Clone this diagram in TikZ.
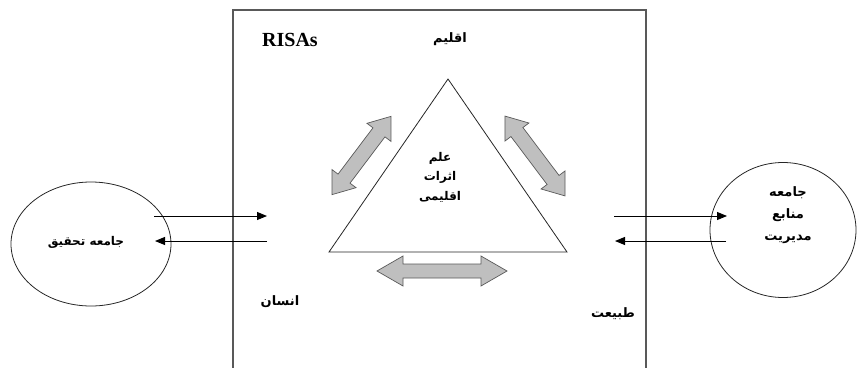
\documentclass[tikz,border=0pt]{standalone}
\usepackage{fontspec}
\setmainfont{Liberation Serif}
\newfontfamily\arabicfont[Script=Arabic]{DejaVu Sans}
\TeXXeTstate=1
\usetikzlibrary{arrows.meta,shapes.geometric}
\newcommand{\fa}[1]{{\arabicfont\bfseries\beginR #1\endR}}
\begin{document}
\begin{tikzpicture}[x=1pt,y=-1pt,
  box/.style={draw=black!65, line width=1.3pt},
  tri/.style={draw=black!85, line width=0.8pt, fill=white},
  blob/.style={ellipse, draw=black!85, line width=0.8pt, inner sep=0pt},
  blockarrow/.style={draw=black!65, fill=black!25, line width=0.7pt, line join=miter},
  flow/.style={-{Triangle[length=10pt,width=8pt]}, line width=1pt},
  lbl/.style={inner sep=0pt, align=center},
  falbl/.style={lbl, font=\fontsize{13}{19}\selectfont},
  trilbl/.style={lbl, font=\fontsize{12}{19.5}\selectfont}]
\useasboundingbox (0,0) rectangle (857,367);
% frame open at bottom
\coordinate (fbl) at (233,368);
\coordinate (ftl) at (233,10);
\coordinate (ftr) at (646,10);
\coordinate (fbr) at (646,368);
\draw[box] (fbl) -- (ftl) -- (ftr) -- (fbr);
% ellipses
\node[blob, minimum width=160pt, minimum height=124pt] (lc) at (91,244) {};
\node[blob, minimum width=146pt, minimum height=135pt] (rc) at (783,230) {};
% triangle
\coordinate (ta) at (448,79);
\coordinate (tl) at (329,252);
\coordinate (tr) at (567,252);
\draw[tri] (ta) -- (tl) -- (tr) -- cycle;
% block double arrows
\begin{scope}[shift={(442,271)}]
  \draw[blockarrow] (-65,0) -- (-39,15) -- (-39,7) -- (39,7) -- (39,15) -- (65,0)
    -- (39,-15) -- (39,-7) -- (-39,-7) -- (-39,-15) -- cycle;
\end{scope}
\begin{scope}[shift={(361.5,155.5)}, rotate=53]
  \draw[blockarrow] (-49,0) -- (-29,15) -- (-29,7.5) -- (29,7.5) -- (29,15) -- (49,0)
    -- (29,-15) -- (29,-7.5) -- (-29,-7.5) -- (-29,-15) -- cycle;
\end{scope}
\begin{scope}[shift={(535,156)}, rotate=-53]
  \draw[blockarrow] (-50,0) -- (-30,15) -- (-30,7.5) -- (30,7.5) -- (30,15) -- (50,0)
    -- (30,-15) -- (30,-7.5) -- (-30,-7.5) -- (-30,-15) -- cycle;
\end{scope}
% flow arrows
\coordinate (l1s) at (154,216);
\coordinate (l1e) at (267,216);
\coordinate (l2s) at (267,241);
\coordinate (l2e) at (155,241);
\coordinate (r1s) at (614,216);
\coordinate (r1e) at (727,216);
\coordinate (r2s) at (726,241);
\coordinate (r2e) at (615,241);
\draw[flow] (l1s) -- (l1e);
\draw[flow] (l2s) -- (l2e);
\draw[flow] (r1s) -- (r1e);
\draw[flow] (r2s) -- (r2e);
% labels
\node[lbl, font=\bfseries\fontsize{20}{24}\selectfont] (risas) at (290,40) {RISAs};
\node[falbl] (eqlim) at (450,39) {\fa{اقلیم}};
\node[trilbl] (core) at (440,177) {\fa{علم}\\\fa{اثرات}\\\fa{اقلیمی}};
\node[falbl] (ensan) at (280,302) {\fa{انسان}};
\node[falbl] (tabiat) at (613,314) {\fa{طبیعت}};
\node[falbl, font=\fontsize{12}{19}\selectfont] (research) at (86,242) {\fa{جامعه تحقیق}};
\node[falbl, font=\fontsize{13}{22}\selectfont] (mgmt) at (788,215) {\fa{جامعه}\\\fa{منابع}\\\fa{مدیریت}};
\end{tikzpicture}
\end{document}
